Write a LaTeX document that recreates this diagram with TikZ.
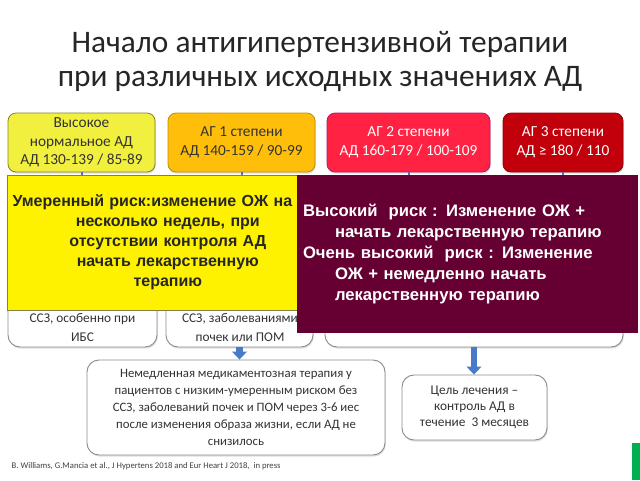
\documentclass[tikz,border=0pt]{standalone}
\usepackage{fontspec}
\setmainfont{Carlito}
\newfontfamily\arialfont{Liberation Sans}
\usetikzlibrary{positioning,shapes,arrows.meta,calc,shadows}

\definecolor{hnormyellow}{RGB}{242,240,62}
\definecolor{agorange}{RGB}{255,190,10}
\definecolor{agred}{RGB}{255,34,66}
\definecolor{agdarkred}{RGB}{194,0,12}
\definecolor{riskmaroon}{RGB}{102,0,51}
\definecolor{arrowblue}{RGB}{72,122,200}
\definecolor{slidegreen}{RGB}{0,176,80}
\newcommand{\pxu}{*0.75pt}

\begin{document}
\begin{tikzpicture}[x=0.75pt, y=-0.75pt,
    grade/.style={rectangle, rounded corners=6pt, draw, line width=0.6pt, align=center, inner sep=0pt,
        minimum height=59\pxu, font=\fontsize{11.5}{14}\selectfont,
        drop shadow={opacity=0.25, shadow xshift=0.6pt, shadow yshift=-1.2pt}},
    outcome/.style={rectangle, rounded corners=9pt, draw=black!45, line width=0.7pt, fill=white, align=center,
        inner sep=0pt, text=black!80, font=\fontsize{10}{14}\selectfont,
        drop shadow={opacity=0.25, shadow xshift=0.6pt, shadow yshift=-1.2pt}},
    riskbox/.style={rectangle, inner xsep=3\pxu, inner ysep=0pt, font=\arialfont\bfseries\fontsize{12}{15}\selectfont},
    link/.style={draw=black!40!blue!60, line width=1.5pt},
    flow/.style={draw=arrowblue, line width=5pt, -{Triangle[width=11pt,length=6pt]}}
]
    \useasboundingbox (0,0) rectangle (640,480);
    \fill[white] (0,0) rectangle (640,480);

    % title
    \node[align=center, text=black!85, font=\fontsize{23.5}{25}\selectfont] (title) at (320,61.5)
        {Начало антигипертензивной терапии\\при различных исходных значениях АД};

    % grades of BP
    \node[grade, fill=hnormyellow, draw=hnormyellow!55!black, text=black!80, minimum width=147\pxu] (hnorm) at (81.5,142.5)
        {Высокое\\нормальное АД\\АД 130-139 / 85-89};
    \node[grade, fill=agorange, draw=agorange!75!black, text=black!80, minimum width=147\pxu] (ag1) at (241.5,142.5)
        {АГ 1 степени\\АД 140-159 / 90-99};
    \node[grade, fill=agred, draw=agred!70!blue, text=white, minimum width=163\pxu] (ag2) at (408.5,142.5)
        {АГ 2 степени\\АД 160-179 / 100-109};
    \node[grade, fill=agdarkred, draw=agdarkred!75!black, text=white, minimum width=120\pxu] (ag3) at (563,142.5)
        {АГ 3 степени\\АД ≥ 180 / 110};

    % boxes under the overlays
    \node[outcome, minimum width=149\pxu, minimum height=162\pxu] (ssz1) at (82.5,266) {};
    \node[outcome, minimum width=147\pxu, minimum height=162\pxu] (ssz2) at (239.5,266) {};
    \node[outcome, minimum width=298\pxu, minimum height=162\pxu] (ssz3) at (474,266) {};
    \node[align=center, text=black!80, font=\fontsize{10}{14}\selectfont] (ssz1txt) at (82.5,327.5)
        {ССЗ, особенно при\\ИБС};
    \node[align=center, text=black!80, font=\fontsize{10}{14}\selectfont] (ssz2txt) at (240,327.5)
        {ССЗ, заболеваниями\\почек или ПОМ};

    \draw[link] (hnorm.south) -- (hnorm.south |- ssz1.north);
    \draw[link] (ag1.south) -- (ag1.south |- ssz2.north);
    \draw[link] (ag2.south) -- (ag2.south |- ssz3.north);
    \draw[link] (ag3.south) -- (ag3.south |- ssz3.north);

    % risk overlays
    \node[riskbox, fill=yellow, draw=yellow!45!black, line width=0.4pt, text=black!85, align=center,
        text width=285\pxu, minimum height=135\pxu] (moderate) at (152.5,242.5)
        {Умеренный риск:изменение ОЖ на\\
         \hspace*{23pt}несколько недель, при\\
         \hspace*{23pt}отсутствии контроля АД\\
         \hspace*{23pt}начать лекарственную\\
         \hspace*{23pt}терапию};
    \node[riskbox, fill=riskmaroon, text=white, align=left, inner xsep=6\pxu,
        font=\arialfont\bfseries\fontsize{12.5}{15.75}\selectfont,
        text width=329\pxu, minimum height=158\pxu] (high) at (467.5,254)
        {Высокий\ \ риск : Изменение ОЖ +\\
         \hspace*{24pt}начать лекарственную терапию\\
         Очень высокий\ \ риск : Изменение\\
         \hspace*{24pt}ОЖ + немедленно начать\\
         \hspace*{24pt}лекарственную терапию};

    % treatment
    \node[outcome, minimum width=298\pxu, minimum height=95\pxu, font=\fontsize{9.6}{12.8}\selectfont] (drugs) at (236,407.5)
        {Немедленная медикаментозная терапия у\\пациентов с низким-умеренным риском без\\ССЗ, заболеваний почек и ПОМ через 3-6 иес\\после изменения образа жизни, если АД не\\снизилось};
    \node[outcome, minimum width=145\pxu, minimum height=65\pxu, font=\fontsize{10}{11.8}\selectfont] (goal) at (474.5,407.5)
        {Цель лечения –\\контроль АД в\\течение\ \ 3 месяцев};

    \draw[flow] (ssz2.south) -- (ssz2.south |- drugs.north);
    \draw[flow] (ssz3.south) -- (ssz3.south |- goal.north);

    \node[anchor=west, text=black!75, font=\fontsize{6.5}{8}\selectfont] (source) at (7,466)
        {B. Williams, G.Mancia et al., J Hypertens 2018 and Eur Heart J 2018,\ \ in press};

    \fill[slidegreen] (632,443) rectangle (640,480);
\end{tikzpicture}
\end{document}
